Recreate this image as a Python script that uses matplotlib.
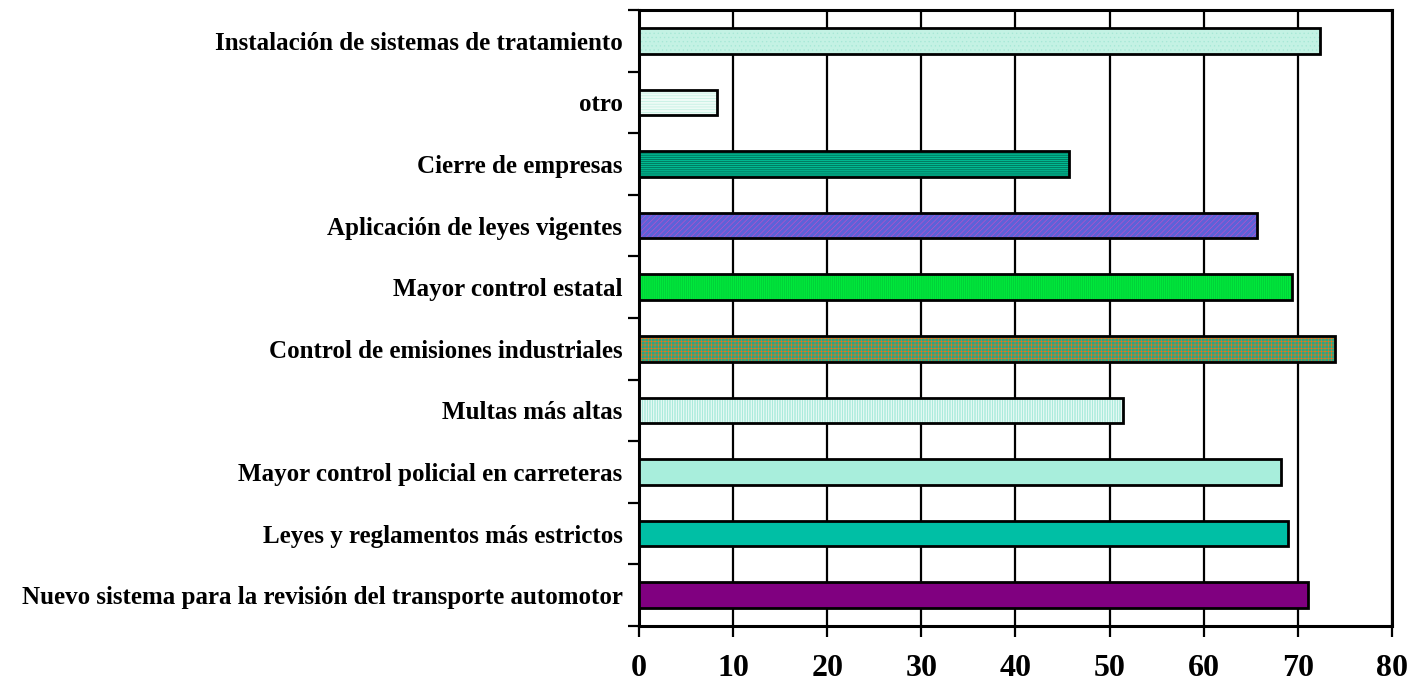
import matplotlib
matplotlib.use('Agg')
import matplotlib.pyplot as plt
import matplotlib.ticker as ticker
import numpy as np

# categories listed bottom to top
categorias = ['Nuevo sistema para la revisión del transporte automotor',
              'Leyes y reglamentos más estrictos',
              'Mayor control policial en carreteras',
              'Multas más altas',
              'Control de emisiones industriales',
              'Mayor control estatal',
              'Aplicación de leyes vigentes',
              'Cierre de empresas',
              'otro',
              'Instalación de sistemas de tratamiento']
valores = [71.1, 69.0, 68.2, 51.4, 73.9, 69.4, 65.7, 45.7, 8.3, 72.4]
xticks = [0, 10, 20, 30, 40, 50, 60, 70, 80]

# fill, hatch, hatch colour for each bar
rellenos = ['#800080', '#00bfa5', '#a8eedc', '#f4fcfa', '#2aa884',
            '#00e83c', '#5c62d8', '#00b890', '#eefbf6', '#c4f2e4']
tramas = [None, None, None, '|' * 10, '+' * 5,
          '|' * 8, '/' * 6, '-' * 8, '-' * 6, '.' * 4]
color_trama = [None, None, None, '#80e2ca', '#e8741c',
               '#00c836', '#c050c8', '#005a48', '#b8eede', '#a6e8d6']

plt.rcParams['font.family'] = ['Liberation Serif', 'DejaVu Serif']
plt.rcParams['font.weight'] = 'bold'
plt.rcParams['hatch.linewidth'] = 0.45

fig = plt.figure(figsize=(14.11, 6.89), dpi=100)
ax = fig.add_axes([0.4529, 0.0914, 0.5336, 0.8941])

y = np.arange(len(categorias))
for i in range(len(categorias)):
    if tramas[i] is None:
        ax.barh(y[i], valores[i], height=0.415, color=rellenos[i],
                edgecolor='black', linewidth=2, zorder=3)
    else:
        ax.barh(y[i], valores[i], height=0.415, color=rellenos[i],
                edgecolor=color_trama[i], hatch=tramas[i], linewidth=0, zorder=3)
        ax.barh(y[i], valores[i], height=0.415, fill=False,
                edgecolor='black', linewidth=2, zorder=4)

ax.set_xlim(0, 80)
ax.set_ylim(-0.5, len(categorias) - 0.5)
ax.set_xticks(xticks)
ax.set_xticklabels([str(v) for v in xticks], fontsize=23, fontweight='bold')
ax.xaxis.grid(True, color='black', linewidth=1.6, zorder=0)
ax.set_axisbelow(True)

# category labels without ticks, ticks on the boundaries
ax.set_yticks(y)
ax.set_yticklabels(categorias, fontsize=18, fontweight='bold')
ax.tick_params(axis='y', length=0, pad=12)
ax.yaxis.set_minor_locator(ticker.FixedLocator(np.arange(-0.5, len(categorias), 1)))
ax.tick_params(axis='y', which='minor', length=8, width=1.6, direction='out')
ax.tick_params(axis='x', length=8, width=1.6, direction='out', pad=12)

for s in ax.spines.values():
    s.set_linewidth(2.2)

plt.savefig('out.png', dpi=100)
